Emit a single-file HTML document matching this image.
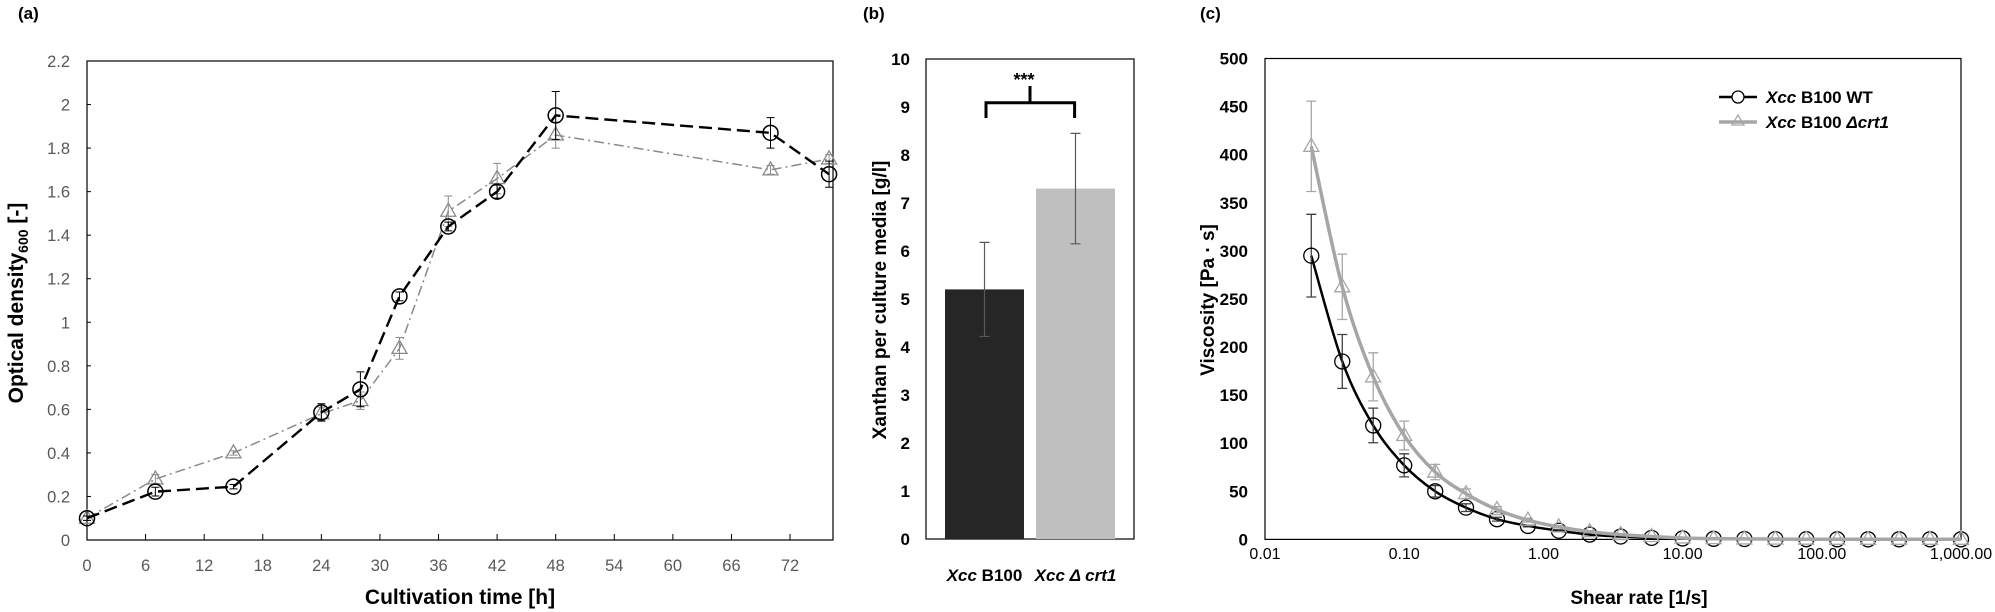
<!DOCTYPE html>
<html><head><meta charset="utf-8">
<style>
html,body{margin:0;padding:0;background:#fff;}
svg{display:block;font-family:"Liberation Sans",sans-serif;}
</style></head>
<body>
<svg id="fig" width="1995" height="612" viewBox="0 0 1995 612" xmlns="http://www.w3.org/2000/svg">
<text x="18" y="19" font-size="17" font-weight="bold">(a)</text>
<text x="863" y="19" font-size="17" font-weight="bold">(b)</text>
<text x="1200" y="19" font-size="17" font-weight="bold">(c)</text>
<g id="pa"></g>
<g id="pb"></g>
<g id="pc"></g>
</svg>
<script>
// ---- Panel (a) data
const timeH = [0,7,15,24,28,32,37,42,48,70,76];
const odWT = [0.10,0.222,0.245,0.586,0.692,1.119,1.44,1.60,1.95,1.87,1.68];
const odWTErr = [0.01,0.02,0.01,0.04,0.08,0.02,0.02,0.03,0.11,0.07,0.06];
const odMut = [0.10,0.28,0.40,0.58,0.64,0.88,1.51,1.66,1.86,1.70,1.75];
const odMutErr = [0.01,0.02,0.01,0.03,0.04,0.05,0.07,0.07,0.06,0.02,0.02];
const aXTicks = [0,6,12,18,24,30,36,42,48,54,60,66,72];
const aYTicks = [0,0.2,0.4,0.6,0.8,1,1.2,1.4,1.6,1.8,2,2.2];
// ---- Panel (b) data
const bCats = ["B100","\u0394 crt1"];
const bVals = [5.2,7.3];
const bErr = [0.98,1.15];
const bYTicks = [0,1,2,3,4,5,6,7,8,9,10];
// ---- Panel (c) data
const shear = [0.0215,0.0359,0.0599,0.1,0.167,0.278,0.464,0.774,1.29,2.15,3.59,5.99,10,16.7,27.8,46.4,77.4,129,215,359,599,1000];
const viscWT = [295,185,118.5,77,50,33,21,14,9,5,3,1.6,1,0.6,0.4,0.3,0.2,0.1,0.1,0.1,0.1,0.1];
const viscWTErr = [43,28,18,12,6,4,2,1,1,0,0,0,0,0,0,0,0,0,0,0,0,0];
const viscMut = [408.7,262.6,169,108,70,47.5,31,20,13,8,5,3,1.5,0.8,0.5,0.3,0.2,0.1,0.1,0.1,0.1,0.1];
const viscMutErr = [47,34,25,15,8,5,3,2,1,1,0,0,0,0,0,0,0,0,0,0,0,0];
const cXTicks = [0.01,0.1,1,10,100,1000];
const cXLabels = ["0.01","0.10","1.00","10.00","100.00","1,000.00"];
const cYTicks = [0,50,100,150,200,250,300,350,400,450,500];

const NS="http://www.w3.org/2000/svg";
function mk(parent,tag,attrs,text){const e=document.createElementNS(NS,tag);for(const k in attrs)e.setAttribute(k,attrs[k]);if(text!==undefined)e.textContent=text;parent.appendChild(e);return e;}

// ===== Panel A
(function(){
const g=document.getElementById('pa');
const L=87,R=833,T=61,B=540,XMAX=76.4,YMAX=2.2;
const x=v=>L+(R-L)*v/XMAX, y=v=>B-(B-T)*v/YMAX;
const frame=mk(g,'rect',{x:L,y:T,width:R-L,height:B-T,fill:'none',stroke:'#000','stroke-width':1.2});


aYTicks.forEach(v=>{
const tk=mk(g,'line',{x1:L,x2:L+4,y1:y(v),y2:y(v),stroke:'#000','stroke-width':1});


const t=mk(g,'text',{x:L-17,y:y(v)+6,'font-size':16.5,fill:'#595959','text-anchor':'end'},String(v));

});
aXTicks.forEach(v=>{const l=mk(g,'line',{x1:x(v),x2:x(v),y1:B,y2:B-6,stroke:'#000','stroke-width':1});


const t=mk(g,'text',{x:x(v),y:B+31,'font-size':16.5,fill:'#595959','text-anchor':'middle'},String(v));

});
const xt=mk(g,'text',{x:(L+R)/2,y:604,'font-size':21,'font-weight':'bold','text-anchor':'middle'},'Cultivation time [h]');


const yt=mk(g,'text',{transform:'translate(23,303) rotate(-90)','font-size':21,'font-weight':'bold','text-anchor':'middle'});


mk(yt,'tspan',{},'Optical density');mk(yt,'tspan',{'font-size':14,dy:5},'600');mk(yt,'tspan',{dy:-5},' [-]');
function series(vals,errs,color,sw,dash,marker,name){
  const pts=timeH.map((t,i)=>x(t)+','+y(vals[i])).join(' ');
  const pl=mk(g,'polyline',{points:pts,fill:'none',stroke:color,'stroke-width':sw,'stroke-dasharray':dash});
  
  
  timeH.forEach((t,i)=>{
    const cx=x(t),cy=y(vals[i]),e=errs[i];
    const eb=mk(g,'path',{d:`M${cx},${y(vals[i]+e)}V${y(vals[i]-e)}M${cx-4},${y(vals[i]+e)}h8M${cx-4},${y(vals[i]-e)}h8`,stroke:color,'stroke-width':1,fill:'none'});
    
    
    let m;
    if(marker==='c') m=mk(g,'circle',{cx:cx,cy:cy,r:7.5,fill:'none',stroke:color,'stroke-width':1.5});
    else m=mk(g,'path',{d:`M${cx},${cy-8}L${cx+7.5},${cy+5}H${cx-7.5}Z`,fill:'none',stroke:color,'stroke-width':1.3});
    
    
  });
}
series(odMut,odMutErr,'#8a8a8a',1.5,'10 4 2 4','t','mutant');
series(odWT,odWTErr,'#000',2.4,'13 6','c','wild-type');
})();

// ===== Panel B
(function(){
const g=document.getElementById('pb');
const L=926,R=1134,T=59,B=539,YMAX=10;
const y=v=>B-(B-T)*v/YMAX;
const barX=[945,1036],barW=79,fills=['#262626','#bfbfbf'];
const frame=mk(g,'rect',{x:L,y:T,width:R-L,height:B-T,fill:'none',stroke:'#000','stroke-width':1.2});


bYTicks.forEach(v=>{const t=mk(g,'text',{x:910,y:y(v)+6,'font-size':17,'font-weight':'bold','text-anchor':'end'},String(v));

});
bVals.forEach((v,i)=>{
  const r=mk(g,'rect',{x:barX[i],y:y(v),width:barW,height:B-y(v),fill:fills[i]});
  
  
  const cx=barX[i]+barW/2;
  const eb=mk(g,'path',{d:`M${cx},${y(v+bErr[i])}V${y(v-bErr[i])}M${cx-5},${y(v+bErr[i])}h10M${cx-5},${y(v-bErr[i])}h10`,stroke:'#595959','stroke-width':1.2,fill:'none'});
  
  
  const t=mk(g,'text',{x:cx,y:581,'font-size':17,'font-weight':'bold','text-anchor':'middle'});
  
  
  mk(t,'tspan',{'font-style':'italic'},'Xcc ');
  if(i===0) mk(t,'tspan',{},bCats[i]); else mk(t,'tspan',{'font-style':'italic'},bCats[i]);
});
const br=mk(g,'path',{d:'M986,118V102.7H1074.6V118M1030,102.7V86',stroke:'#000','stroke-width':3,fill:'none'});


const st=mk(g,'text',{x:1024,y:86,'font-size':18,'font-weight':'bold','text-anchor':'middle'},'***');


const yt=mk(g,'text',{transform:'translate(886,300) rotate(-90)','font-size':19,'font-weight':'bold','text-anchor':'middle'},'Xanthan per culture media [g/l]');


})();

// ===== Panel C
(function(){
const g=document.getElementById('pc');
const L=1265,R=1961,T=58.5,B=539.4,YMAX=500;
const x=v=>L+(R-L)*(Math.log10(v)+2)/5, y=v=>B-(B-T)*v/YMAX;
const frame=mk(g,'rect',{x:L,y:T,width:R-L,height:B-T,fill:'none',stroke:'#000','stroke-width':1.2});


cYTicks.forEach(v=>{const t=mk(g,'text',{x:1248,y:y(v)+6,'font-size':17,'font-weight':'bold','text-anchor':'end'},String(v));

});
cXTicks.forEach((v,i)=>{const t=mk(g,'text',{x:x(v),y:559,'font-size':16,'text-anchor':'middle'},cXLabels[i]);

});
const xt=mk(g,'text',{x:1639,y:604,'font-size':19,'font-weight':'bold','text-anchor':'middle'},'Shear rate [1/s]');


const yt=mk(g,'text',{transform:'translate(1214,300) rotate(-90)','font-size':19,'font-weight':'bold','text-anchor':'middle'},'Viscosity  [Pa \u00b7 s]');


function series(vals,errs,color,ecolor,sw,marker,name){
  const pts=shear.map((s,i)=>[x(s),y(vals[i])]);
  let d='M'+pts[0][0]+','+pts[0][1];
  for(let i=0;i<pts.length-1;i++){
    const p0=pts[Math.max(0,i-1)],p1=pts[i],p2=pts[i+1],p3=pts[Math.min(pts.length-1,i+2)];
    const c1=[p1[0]+(p2[0]-p0[0])/6,p1[1]+(p2[1]-p0[1])/6],c2=[p2[0]-(p3[0]-p1[0])/6,p2[1]-(p3[1]-p1[1])/6];
    d+=`C${c1[0]},${c1[1]} ${c2[0]},${c2[1]} ${p2[0]},${p2[1]}`;
  }
  const pl=mk(g,'path',{d:d,fill:'none',stroke:color,'stroke-width':sw});
  
  
  shear.forEach((s,i)=>{
    const cx=x(s),cy=y(vals[i]),e=errs[i];
    if(e>0){const eb=mk(g,'path',{d:`M${cx},${y(vals[i]+e)}V${y(vals[i]-e)}M${cx-5},${y(vals[i]+e)}h10M${cx-5},${y(vals[i]-e)}h10`,stroke:ecolor,'stroke-width':1.3,fill:'none'});
    
    }
    let m;
    if(marker==='c') m=mk(g,'circle',{cx:cx,cy:cy,r:7.5,fill:'none',stroke:'#000','stroke-width':1.3});
    else m=mk(g,'path',{d:`M${cx},${cy-8}L${cx+7.5},${cy+5}H${cx-7.5}Z`,fill:'none',stroke:color,'stroke-width':1.3});
    
    
  });
}
series(viscWT,viscWTErr,'#000','#404040',2.5,'c','wild-type');
series(viscMut,viscMutErr,'#a6a6a6','#a6a6a6',3.5,'t','mutant');
// legend
const lg=mk(g,'g',{});


const l1=mk(lg,'line',{x1:1719,x2:1757,y1:97,y2:97,stroke:'#000','stroke-width':2.5});


mk(lg,'circle',{cx:1738,cy:97,r:6,fill:'#fff',stroke:'#000','stroke-width':1.3});
const l2=mk(lg,'line',{x1:1719,x2:1757,y1:122,y2:122,stroke:'#a6a6a6','stroke-width':3.5});


mk(lg,'path',{d:'M1738,115L1744,125H1732Z',fill:'none',stroke:'#a6a6a6','stroke-width':1.3});
const t1=mk(lg,'text',{x:1766,y:103,'font-size':17,'font-weight':'bold'});


mk(t1,'tspan',{'font-style':'italic'},'Xcc');mk(t1,'tspan',{},' B100 WT');
const t2=mk(lg,'text',{x:1766,y:128,'font-size':17,'font-weight':'bold'});


mk(t2,'tspan',{'font-style':'italic'},'Xcc');mk(t2,'tspan',{},' B100 ');mk(t2,'tspan',{'font-style':'italic'},'\u0394crt1');
})();
</script>
</body></html>
